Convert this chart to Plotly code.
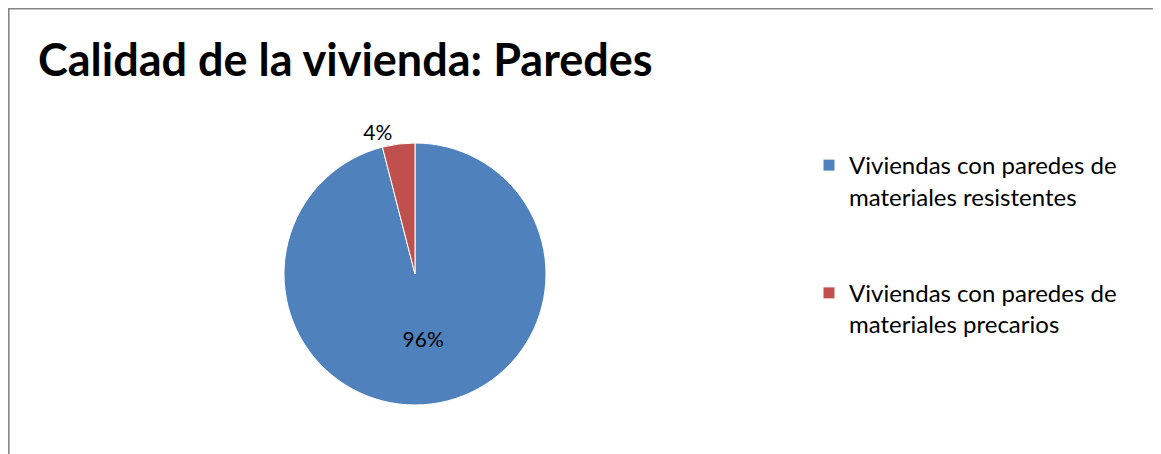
import plotly.graph_objects as go

categories = [
    "Viviendas con paredes de<br>materiales resistentes",
    "Viviendas con paredes de<br>materiales precarios",
]
values = [96, 4]
colors = ["#4F81BD", "#C0504D"]
title_text = "Calidad de la vivienda: Paredes"

W, H = 1161, 454
OFF = 8  # browser body margin: page position = figure position + 8

# legend labels padded with blank lines to reproduce the wide gap between entries
legend_labels = [c + "<br> <br> " for c in categories]

fig = go.Figure()
fig.add_trace(go.Pie(
    labels=legend_labels,
    values=values,
    sort=False,
    direction="clockwise",
    rotation=0,
    marker=dict(colors=colors, line=dict(color="#FFFFFF", width=1)),
    texttemplate="%{percent:.0%}",
    textposition=["inside", "outside"],
    textfont=dict(family="Lato", size=21, color="#000000"),
    insidetextorientation="horizontal",
    hoverinfo="label+percent",
    domain=dict(x=[(284 - OFF) / W, (546 - OFF) / W],
                y=[1 - (405 - OFF) / H, 1 - (143 - OFF) / H]),
    showlegend=True,
))

fig.update_layout(
    width=W, height=H,
    margin=dict(l=0, r=0, t=0, b=0),
    paper_bgcolor="#FFFFFF",
    plot_bgcolor="#FFFFFF",
    font=dict(family="Lato", color="#000000"),
    title=dict(
        text="<b>" + title_text + "</b>",
        x=(39 - OFF - 1) / W, xanchor="left", xref="paper",
        y=1 - (60 - OFF) / H, yanchor="middle", yref="container",
        font=dict(family="Lato", size=45, color="#000000"),
    ),
    legend=dict(
        x=(849 - OFF - 40) / W, xanchor="left",
        y=1 - (143 - OFF) / H, yanchor="top",
        valign="top",
        font=dict(family="Lato", size=24, color="#000000"),
        bgcolor="rgba(0,0,0,0)",
        tracegroupgap=0,
    ),
    shapes=[dict(
        type="rect", xref="paper", yref="paper",
        x0=0.8 / W, x1=(1159 - OFF) / W, y0=-0.05, y1=1 - 0.8 / H,
        line=dict(color="#868686", width=1.6),
        fillcolor="rgba(0,0,0,0)",
    )],
)

fig.write_html("out.html")
